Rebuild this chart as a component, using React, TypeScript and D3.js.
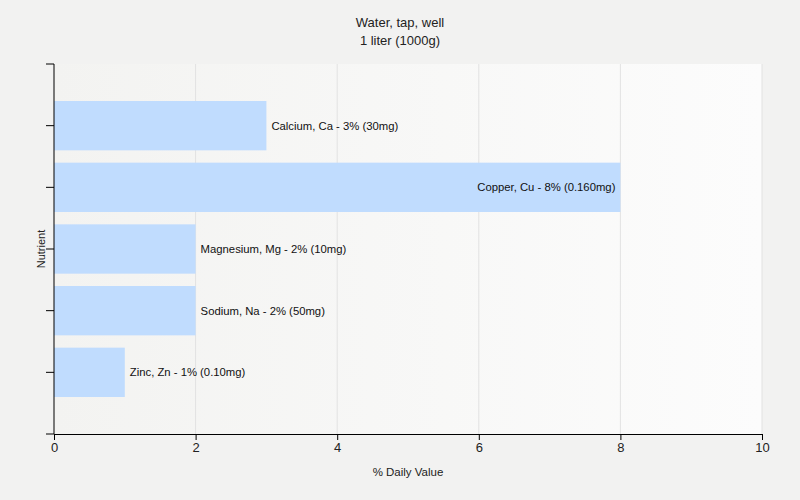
import { useEffect, useRef } from "react";
import * as d3 from "d3";

const nutrients = ["Calcium, Ca", "Copper, Cu", "Magnesium, Mg", "Sodium, Na", "Zinc, Zn"];
const dailyValue = [3, 8, 2, 2, 1];
const amounts = ["30mg", "0.160mg", "10mg", "50mg", "0.10mg"];
const xTicks = [0, 2, 4, 6, 8, 10];

const W = 800;
const H = 500;
const margin = { top: 64, right: 38, bottom: 66, left: 54 };

export default function App() {
  const ref = useRef<SVGSVGElement | null>(null);

  useEffect(() => {
    if (!ref.current) return;
    const svg = d3.select(ref.current);
    svg.selectAll("*").remove();
    const innerW = W - margin.left - margin.right;
    const innerH = H - margin.top - margin.bottom;
    const font = "Liberation Sans, Arial, sans-serif";

    const x = d3.scaleLinear().domain([0, 10]).range([0, innerW]);
    // categories sit on 1..5, with a half-empty slot at top and bottom
    const y = d3.scaleLinear().domain([0, nutrients.length + 1]).range([0, innerH]);
    const band = y(1) - y(0);
    const barH = band * 0.8;

    const defs = svg.append("defs");
    const grad = defs.append("linearGradient").attr("id", "bg").attr("x1", "0").attr("x2", "1");
    grad.append("stop").attr("offset", "0").attr("stop-color", "#f3f3f1");
    grad.append("stop").attr("offset", "1").attr("stop-color", "#fcfcfc");

    svg.append("rect").attr("width", W).attr("height", H).attr("fill", "#f2f2f1");

    svg.append("text").attr("x", W / 2).attr("y", 27).attr("text-anchor", "middle")
      .attr("font-family", font).attr("font-size", 13).attr("fill", "#222").text("Water, tap, well");
    svg.append("text").attr("x", W / 2).attr("y", 45).attr("text-anchor", "middle")
      .attr("font-family", font).attr("font-size", 13).attr("fill", "#222").text("1 liter (1000g)");

    const g = svg.append("g").attr("transform", `translate(${margin.left},${margin.top})`);
    g.append("rect").attr("width", innerW).attr("height", innerH).attr("fill", "url(#bg)");

    g.append("g").selectAll("line").data(xTicks.slice(1)).join("line")
      .attr("x1", (d) => x(d)).attr("x2", (d) => x(d))
      .attr("y1", 0).attr("y2", innerH)
      .attr("stroke", "#e2e2e2");

    g.append("g").selectAll("rect").data(dailyValue).join("rect")
      .attr("x", 0)
      .attr("y", (_, i) => y(i + 1) - barH / 2)
      .attr("width", (d) => x(d))
      .attr("height", barH)
      .attr("fill", "#c0dcfe");

    g.append("g").selectAll("text").data(dailyValue).join("text")
      .attr("x", (d) => (d >= 6 ? x(d) - 5 : x(d) + 5))
      .attr("y", (_, i) => y(i + 1) + 4)
      .attr("text-anchor", (d) => (d >= 6 ? "end" : "start"))
      .attr("font-family", font).attr("font-size", 11.3).attr("fill", "#111")
      .text((d, i) => `${nutrients[i]} - ${d}% (${amounts[i]})`);

    // y axis
    const yAxis = g.append("g");
    yAxis.append("line").attr("x1", 0).attr("x2", 0).attr("y1", 0).attr("y2", innerH)
      .attr("stroke", "#000");
    yAxis.selectAll("line.t").data(d3.range(0, nutrients.length + 2)).join("line")
      .attr("class", "t")
      .attr("x1", -8).attr("x2", 0)
      .attr("y1", (d) => y(d)).attr("y2", (d) => y(d))
      .attr("stroke", "#000");

    g.append("g")
      .attr("transform", `translate(0,${innerH})`)
      .call(d3.axisBottom(x).tickValues(xTicks).tickSize(6).tickSizeOuter(0).tickPadding(3))
      .call((s) => s.select(".domain").attr("stroke", "#000"))
      .call((s) => s.selectAll(".tick line").attr("stroke", "#000"))
      .call((s) => s.selectAll("text").attr("font-family", font).attr("font-size", 13).attr("fill", "#222"));

    svg.append("text").attr("x", margin.left + innerW / 2).attr("y", 476).attr("text-anchor", "middle")
      .attr("font-family", font).attr("font-size", 11.5).attr("fill", "#222").text("% Daily Value");
    svg.append("text")
      .attr("transform", `translate(45,${margin.top + innerH / 2}) rotate(-90)`)
      .attr("text-anchor", "middle")
      .attr("font-family", font).attr("font-size", 11).attr("fill", "#222").text("Nutrient");
  }, []);

  return (
    <svg ref={ref} width={W} height={H} style={{ position: "absolute", left: 0, top: 0 }} />
  );
}
